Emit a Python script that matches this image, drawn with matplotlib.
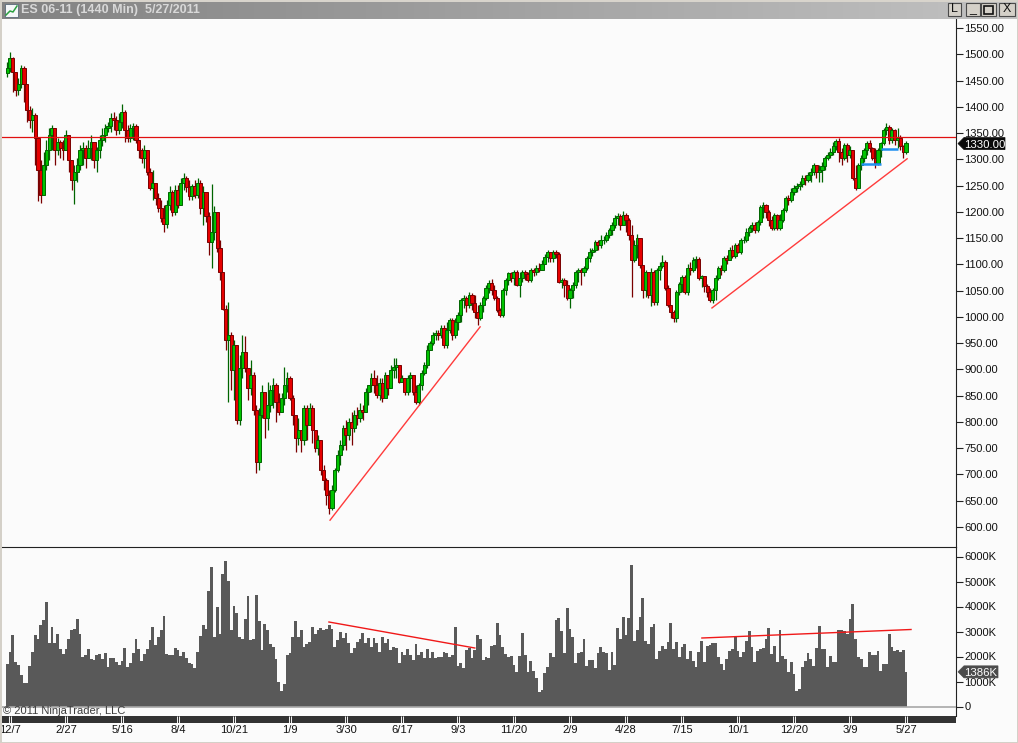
import matplotlib
matplotlib.use("Agg")
import matplotlib.pyplot as plt
import numpy as np
from matplotlib.patches import Polygon, Rectangle
from matplotlib.transforms import IdentityTransform

plt.rcParams["font.family"] = ["Liberation Sans", "DejaVu Sans"]
plt.rcParams["font.size"] = 8

W, H = 1018, 743

#Daily candles (20 bars per date tick)
first_open = 1464
closes = [
    1474,1493,1466,1432,1443,1474,1443,1394,1375,1384,1340,1279,1232,1289,1317,1346,1359,1317,1333,1321,
    1317,1346,1298,1260,1275,1289,1317,1321,1302,1321,1333,1298,1317,1336,1346,1359,1363,1378,1375,1356,
    1371,1390,1356,1340,1359,1363,1336,1317,1302,1317,1275,1245,1255,1226,1207,1188,1177,1213,1237,1199,
    1241,1213,1255,1264,1247,1230,1249,1232,1255,1207,1237,1192,1142,1161,1199,1131,1085,1015,956,965,
    899,946,803,902,933,902,864,889,822,723,813,857,807,832,861,870,838,819,845,870,
    883,845,813,769,784,765,826,794,826,784,750,765,708,689,660,636,670,708,737,756,
    788,775,800,788,813,807,822,819,857,870,883,870,851,874,845,889,864,899,904,908,
    876,883,857,883,889,857,838,870,893,908,937,950,965,969,965,979,946,975,994,965,
    990,1003,1032,1036,1022,1041,1026,1009,998,1022,1036,1055,1064,1051,1036,1013,1003,1051,1070,1083,
    1074,1085,1060,1074,1085,1081,1070,1089,1085,1093,1089,1100,1114,1123,1112,1123,1119,1066,1070,1060,
    1036,1051,1060,1085,1089,1085,1093,1112,1123,1127,1142,1137,1146,1146,1156,1165,1175,1188,1192,1175,
    1194,1184,1156,1108,1137,1150,1098,1051,1085,1041,1085,1028,1089,1096,1104,1055,1022,1009,998,1047,
    1062,1076,1047,1093,1089,1108,1110,1074,1077,1058,1047,1032,1051,1074,1093,1089,1112,1108,1127,1116,
    1137,1123,1146,1146,1161,1169,1175,1165,1180,1209,1213,1199,1184,1169,1194,1169,1184,1203,1226,1222,
    1237,1245,1249,1253,1264,1260,1270,1275,1289,1275,1279,1287,1302,1308,1314,1325,1335,1314,1302,1327,
    1308,1317,1264,1245,1289,1302,1317,1331,1321,1302,1293,1317,1331,1356,1361,1336,1356,1336,1340,1325,
    1314,1331]
highs = [
    1485,1504,1495,1466,1455,1479,1477,1441,1401,1397,1388,1342,1298,1314,1336,1359,1365,1359,1340,1336,
    1336,1356,1327,1289,1289,1302,1327,1333,1327,1336,1346,1321,1323,1346,1359,1367,1371,1388,1390,1382,
    1388,1405,1394,1365,1367,1369,1367,1336,1321,1327,1295,1283,1279,1247,1236,1222,1213,1222,1249,1241,
    1251,1251,1264,1274,1268,1260,1253,1260,1264,1260,1249,1222,1199,1253,1211,1188,1146,1070,1022,1028,
    971,956,927,927,965,963,902,918,895,832,826,870,857,876,870,883,874,855,855,904,
    895,887,851,813,807,784,832,832,836,832,781,775,756,718,693,670,680,712,746,765,
    794,803,807,819,822,828,836,832,864,870,893,899,889,883,883,895,889,908,921,921,
    908,889,883,889,895,889,870,874,899,914,946,954,971,975,975,984,984,990,998,998,
    998,1009,1036,1041,1040,1047,1045,1041,1022,1028,1040,1061,1070,1072,1061,1040,1017,1055,1074,1085,
    1085,1089,1089,1085,1089,1089,1085,1093,1093,1098,1102,1108,1119,1127,1123,1127,1127,1123,1074,1074,
    1070,1055,1066,1089,1093,1093,1096,1116,1131,1131,1146,1146,1156,1154,1161,1169,1180,1194,1198,1196,
    1201,1198,1188,1175,1146,1157,1146,1093,1089,1085,1093,1089,1093,1104,1118,1108,1060,1022,1013,1051,
    1066,1079,1079,1100,1104,1114,1116,1114,1079,1077,1062,1055,1055,1079,1096,1098,1116,1118,1133,1137,
    1141,1141,1150,1154,1169,1173,1180,1180,1184,1213,1218,1215,1203,1192,1198,1196,1196,1207,1230,1232,
    1245,1251,1255,1258,1270,1270,1275,1283,1293,1289,1289,1295,1306,1314,1321,1333,1338,1340,1321,1331,
    1331,1325,1317,1289,1293,1308,1321,1335,1336,1323,1321,1321,1333,1359,1369,1365,1359,1357,1359,1346,
    1327,1335]
lows = [
    1456,1466,1428,1420,1422,1435,1409,1371,1359,1352,1289,1220,1216,1251,1279,1298,1317,1289,1308,1302,
    1298,1321,1275,1241,1215,1256,1279,1289,1283,1302,1298,1283,1275,1302,1325,1333,1352,1352,1356,1346,
    1348,1359,1333,1333,1333,1336,1331,1302,1293,1283,1270,1241,1222,1213,1199,1180,1161,1169,1203,1192,
    1194,1207,1222,1241,1237,1222,1222,1226,1226,1196,1175,1180,1118,1093,1146,1123,1070,1013,937,838,
    860,841,796,794,883,895,841,851,813,702,708,807,769,784,819,826,800,813,819,832,
    857,841,794,742,756,742,756,765,794,760,742,737,699,670,642,624,632,666,704,718,
    746,746,765,756,781,794,800,803,819,832,857,855,845,841,838,845,851,880,883,883,
    874,876,851,851,857,851,834,832,861,889,902,937,946,956,956,959,940,940,969,956,
    959,975,990,1017,1009,1017,1013,998,984,994,1009,1032,1045,1041,1032,1009,999,999,1041,1060,
    1066,1060,1058,1038,1066,1070,1066,1066,1077,1079,1085,1089,1100,1104,1104,1104,1112,1064,1055,1038,
    1032,1017,1036,1055,1066,1060,1077,1089,1104,1116,1123,1127,1131,1139,1142,1150,1156,1169,1175,1165,
    1175,1161,1146,1038,1104,1112,1093,1036,1038,1036,1020,1022,1022,1070,1093,1051,1018,998,990,990,
    1041,1047,1043,1041,1079,1085,1093,1070,1057,1047,1038,1028,1026,1032,1070,1079,1085,1100,1108,1112,
    1112,1121,1119,1141,1142,1154,1161,1159,1161,1175,1188,1188,1173,1165,1165,1165,1165,1180,1199,1213,
    1218,1232,1237,1241,1247,1251,1256,1256,1270,1264,1256,1256,1279,1298,1302,1308,1317,1295,1289,1298,
    1295,1302,1260,1241,1260,1279,1295,1308,1314,1298,1283,1289,1304,1327,1346,1329,1331,1327,1321,1317,
    1302,1310]
#Volume in thousands
volumes = [
    1690,2180,2850,1780,1650,1250,945,945,1610,2180,2850,2710,3250,3450,4180,2540,3200,2540,2910,2310,
    2110,2310,2710,3050,3100,3500,2910,1980,2050,2310,1915,1875,2050,2090,1915,2140,1580,1955,1955,1800,
    1650,1820,2350,1580,1740,2140,2710,2310,1820,2110,2310,2650,3200,2450,2780,3050,3640,2110,2050,2050,
    2350,2250,2010,2180,1955,1740,1690,1555,2180,2810,3250,3110,4610,5600,2780,3980,2910,5300,5840,5040,
    3050,4040,3740,2780,2710,3510,4440,2650,2700,4480,3440,2250,3310,3070,2510,2380,1915,985,625,920,
    2050,2150,2780,3440,2780,3050,2400,2510,2580,3200,2910,3050,3150,3050,3100,3280,3110,2400,2650,3000,
    2730,2930,2530,2130,2330,2590,2690,2930,2530,2750,2390,2730,2530,2190,2790,2530,2690,2260,2390,2330,
    1730,2190,2060,2290,2060,1860,2490,2060,2190,1930,2290,1930,2190,1930,2000,2000,2190,2130,2000,2060,
    3170,1620,1730,1530,2260,2330,1930,2260,2860,2690,1860,1970,1930,2420,2460,3350,2860,2390,2100,2000,
    2020,1660,1400,2020,2930,2060,1400,1840,1440,1130,600,665,1330,1570,2130,2000,3460,3560,3030,2130,
    3960,3090,2790,1730,2130,2190,2690,1620,1860,1860,1530,2130,2390,2190,2130,1460,2190,1660,3130,2690,
    3590,2870,3540,5670,2630,3060,3590,4360,2630,2500,3170,3300,1900,2230,2430,2300,2570,3360,2300,2570,
    2000,2390,2500,1900,2230,1840,1600,2170,2630,1770,2430,2470,2530,2530,2000,1700,1460,1900,2210,2300,
    2830,2210,1970,2170,2630,3030,2390,1770,2230,2300,2340,2700,3140,2100,2430,1770,3060,2030,1900,1370,
    1770,1300,610,700,1600,1810,2130,1900,1640,2340,3230,2300,2300,1600,2030,1770,1770,3060,3060,3030,
    2900,3500,4110,2700,1970,1900,1570,1600,2170,2070,2070,2230,1410,1700,1700,2900,2400,2230,2260,2200,
    2270,1386]

date_labels = ['12/7','2/27','5/16','8/4','10/21','1/9','3/30','6/17','9/3','11/20',
               '2/9','4/28','7/15','10/1','12/20','3/9','5/27']
price_ticks = [600,650,700,750,800,850,900,950,1000,1050,1100,1150,1200,1250,1300,1350,1400,1450,1500,1550]
volume_ticks = [0,1000,2000,3000,4000,5000,6000]

#Drawn lines: (bar, value) ends
price_trends = [((115.3,613),(168.9,981)), ((251.7,1017),(321.4,1301))]
volume_trends = [((114.9,3380),(167,2340)), ((248.1,2740),(322.8,3080))]
blue_levels = [(304.9,312,1292), (312,318,1320)]
level_line = 1342.5

UP_FILL, UP_EDGE = '#00c400', '#006400'
DN_FILL, DN_EDGE = '#e60000', '#7a0000'
BG = '#fbfbfb'
INK = '#111111'

closes = np.array(closes, float)
highs = np.array(highs, float)
lows = np.array(lows, float)
volumes = np.array(volumes, float)
opens = np.r_[first_open, closes[:-1]]
bars = np.arange(len(closes))
tick_bars = np.arange(1, len(closes), 20)


def box(y_top, y_bottom, x0=2, x1=956):
    return [x0/W, 1-y_bottom/H, (x1-x0)/W, (y_bottom-y_top)/H]


fig = plt.figure(figsize=(W/100, H/100), dpi=100, facecolor=BG)

#Panels share one bar scale, 2.8 px to a bar
x_lim = ((2-7.2)/2.8, (956-7.2)/2.8)

#Price panel
ax = fig.add_axes(box(19, 547), facecolor=BG)
ax.set_xlim(x_lim)
ax.set_ylim(1603.3-1.9038*547, 1603.3-1.9038*19)
for i in bars:
    up = closes[i] >= opens[i]
    edge = UP_EDGE if up else DN_EDGE
    fill = UP_FILL if up else DN_FILL
    ax.vlines(i, lows[i], highs[i], color=edge, lw=0.9, zorder=2)
    ax.bar(i, closes[i]-opens[i], bottom=opens[i], width=1.1, color=fill, edgecolor=edge, lw=0.7, zorder=2)
ax.axhline(level_line, color='#e01010', lw=0.9, zorder=3)
for a, b in price_trends:
    ax.plot([a[0], b[0]], [a[1], b[1]], color='#ff3b3b', lw=1, zorder=3)
for x0, x1, lvl in blue_levels:
    ax.plot([x0, x1], [lvl, lvl], color='#2090f0', lw=1.8, solid_capstyle='butt', zorder=3)
ax.set_yticks(price_ticks)
ax.set_yticklabels([f'{p}.00' for p in price_ticks])
ax.set_xticks([])

#Volume panel
ax2 = fig.add_axes(box(547, 716), facecolor=BG)
ax2.set_xlim(x_lim)
ax2.set_ylim((706.5-716)*40, (706.5-547)*40)
ax2.bar(bars, volumes, width=1.04, color='#595959', lw=0)
ax2.axhline(0, color='#a8a8a8', lw=1.2, zorder=3)
for a, b in volume_trends:
    ax2.plot([a[0], b[0]], [a[1], b[1]], color='#f01818', lw=1, zorder=3)
ax2.set_yticks(volume_ticks)
ax2.set_yticklabels([f'{v}K' if v else '0' for v in volume_ticks])
ax2.set_xticks([])
ax2.text(1/954, -175, '\u00a9 2011 NinjaTrader, LLC', transform=ax2.get_yaxis_transform(),
         color='#3c3c3c', fontsize=8, ha='left', va='center')

for a_ in (ax, ax2):
    a_.yaxis.tick_right()
    a_.tick_params(axis='y', length=5, width=0.8, color='#222222', labelcolor=INK, pad=1, labelsize=8)
    for side in ('left', 'bottom'):
        a_.spines[side].set_visible(False)
    a_.spines['top'].set_visible(False)
    a_.spines['right'].set_color('#222222')
ax2.spines['top'].set_visible(True)
ax2.spines['top'].set_color('#222222')

#Date band
ax3 = fig.add_axes(box(716, 722.5), facecolor='#333333')
ax3.set_xlim(x_lim)
ax3.set_ylim(0, 1)
ax3.set_yticks([])
ax3.vlines(tick_bars-0.35, 0, 1, color='#f4f4f4', lw=0.7)
ax3.vlines(tick_bars+0.35, 0, 1, color='#f4f4f4', lw=0.7)
ax3.set_xticks(tick_bars)
ax3.set_xticklabels(date_labels)
ax3.tick_params(axis='x', length=0, labelcolor=INK, pad=1.5, labelsize=8)
for s in ax3.spines.values():
    s.set_visible(False)

#Title bar
tb = fig.add_axes([0, 1-19/H, 1, 19/H])
tb.imshow(np.linspace(0, 1, 256).reshape(1, -1), aspect='auto', cmap=matplotlib.colors.LinearSegmentedColormap.from_list('tb', ['#828282', '#c2c2c2']))
tb.set_axis_off()
fig.text(21/W, 1-10/H, 'ES 06-11 (1440 Min)  5/27/2011', color='#d8d8d8', fontsize=9, fontweight='bold', va='center')

px = IdentityTransform()


def rect(x0, y0, x1, y1, **kw):
    #window furniture, given in image pixels from the top
    fig.add_artist(Rectangle((x0, H-y1), x1-x0, y1-y0, transform=px, **kw))


#Window frame
rect(0, 0, W, 1.5, color='#d8d4cc', lw=0)
rect(0, 0, 2, H, color='#d4d0c8', lw=0)
rect(W-1.5, 0, W, H, color='#d4d0c8', lw=0)
rect(0, H-1, W, H, color='#d4d0c8', lw=0)

#Icon
rect(5, 4, 18, 17, facecolor='#f4f6f8', edgecolor='#5a6a7a', lw=0.6)
fig.add_artist(plt.Line2D([6/W, 10/W, 13/W, 17/W], [1-15/H, 1-11/H, 1-12/H, 1-6/H], color='#2aa040', lw=1.1))

#Buttons
for x0, x1, label in [(948, 960.5, 'L'), (966, 980, '_'), (981, 996, ''), (999, 1015, 'X')]:
    rect(x0, 3, x1, 16, facecolor='#d4d0c8', edgecolor='#4a4a4a', lw=0.8)
    if label:
        fig.text((x0+x1)/2/W, 1-9.5/H, label, ha='center', va='center', color='#111111', fontsize=9)
rect(984, 5.5, 993, 13.5, facecolor='none', edgecolor='#111111', lw=1.2)

#Last value tags
fig.canvas.draw()


def tag(axis, value, label, color, right, text_x):
    y = axis.transData.transform((0, value))[1]
    fig.add_artist(Polygon([(958, y), (964, y+6), (right, y+6), (right, y-6), (964, y-6)],
                           closed=True, transform=px, facecolor=color, edgecolor=color, lw=0.5))
    fig.text(text_x/W, y/H, label, color='white', ha='center', va='center_baseline', fontsize=8.2)


tag(ax, 1330, '1330.00', '#0a0a0a', 1005, 984.5)
tag(ax2, volumes[-1], f'{int(volumes[-1])}K', '#4c4c4c', 998, 981)

plt.savefig('out.png', dpi=100, facecolor=fig.get_facecolor())
